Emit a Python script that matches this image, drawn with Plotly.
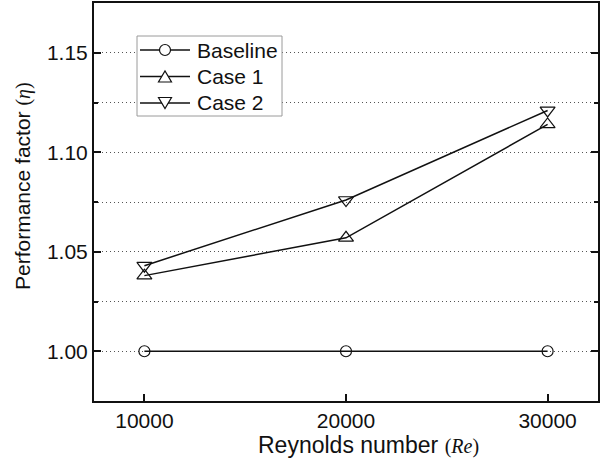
import plotly.graph_objects as go

re_values = [10000, 20000, 30000]
baseline = [1.000, 1.000, 1.000]
case1 = [1.038, 1.057, 1.114]
case2 = [1.043, 1.076, 1.121]
series_names = ["Baseline", "Case 1", "Case 2"]
y_ticks = [1.00, 1.05, 1.10, 1.15]
x_ticks = [10000, 20000, 30000]

W, H = 600, 462
ML, MR, MT, MB = 94, 2, 3, 61
PW, PH = W - ML - MR, H - MT - MB

symbols = ["circle-open", "triangle-up-open", "triangle-down-open"]
sizes = [11, 13, 13]

fig = go.Figure()
for name, vals, sym, sz in zip(series_names, [baseline, case1, case2], symbols, sizes):
    fig.add_trace(go.Scatter(
        x=re_values, y=vals, name=name, mode="lines+markers",
        line=dict(color="#111111", width=1.5),
        marker=dict(symbol=sym, size=sz, color="#111111",
                    line=dict(color="#111111", width=1.2)),
        showlegend=False,
    ))

# ---- custom legend (paper coordinates from pixel offsets) ----
def px(xp):
    return (xp - ML) / PW

def py(yp):
    return (H - MB - yp) / PH

shapes = []
annotations = []
leg_left, leg_right, leg_top, leg_bottom = 137, 282, 36, 116
shapes.append(dict(type="rect", xref="paper", yref="paper",
                   x0=px(leg_left), x1=px(leg_right), y0=py(leg_bottom), y1=py(leg_top),
                   line=dict(color="#9a9a9a", width=1), fillcolor="white", layer="above"))
row_y = [50, 76.5, 103]
for i, name in enumerate(series_names):
    yc = row_y[i]
    shapes.append(dict(type="line", xref="paper", yref="paper",
                       x0=px(140), x1=px(190), y0=py(yc), y1=py(yc),
                       line=dict(color="#111111", width=1.5), layer="above"))
    cx = 165
    if i == 0:
        r = 5.5
        shapes.append(dict(type="circle", xref="paper", yref="paper",
                           x0=px(cx - r), x1=px(cx + r), y0=py(yc + r), y1=py(yc - r),
                           line=dict(color="#111111", width=1.2), fillcolor="white", layer="above"))
    else:
        hw, hh = 6.5, 5.5
        if i == 1:
            pts = [(cx - hw, yc + hh), (cx + hw, yc + hh), (cx, yc - hh)]
        else:
            pts = [(cx - hw, yc - hh), (cx + hw, yc - hh), (cx, yc + hh)]
        path = "M " + " L ".join("%f,%f" % (px(a), py(b)) for a, b in pts) + " Z"
        shapes.append(dict(type="path", xref="paper", yref="paper", path=path,
                           line=dict(color="#111111", width=1.2), fillcolor="white", layer="above"))
    annotations.append(dict(text=name, xref="paper", yref="paper",
                            x=px(195), y=py(yc), xanchor="left", yanchor="middle",
                            showarrow=False, font=dict(size=21)))

font_main = "Liberation Sans, Arial, sans-serif"
math_span = "<span style=\"font-family:'Liberation Serif',serif;font-size:20px\">(<i>%s</i>)</span>"

annotations += [
    dict(text="Reynolds number " + math_span % "Re",
         xref="paper", yref="paper", x=px(368), y=py(445),
         xanchor="center", yanchor="middle", showarrow=False,
         font=dict(size=23)),
    dict(text="Performance factor " + math_span % "η",
         xref="paper", yref="paper", x=px(23), y=py(186),
         xanchor="center", yanchor="middle", showarrow=False,
         textangle=-90, font=dict(size=21)),
]

fig.update_layout(
    width=W, height=H,
    margin=dict(l=ML, r=MR, t=MT, b=MB),
    paper_bgcolor="white", plot_bgcolor="white",
    font=dict(family=font_main, size=21, color="#111111"),
    showlegend=False,
    xaxis=dict(
        range=[7500, 32500], tickvals=x_ticks,
        ticktext=[str(v) for v in x_ticks],
        ticks="inside", ticklen=7, tickwidth=1.5, tickcolor="#111111",
        showline=True, linewidth=2, linecolor="#111111", mirror=True,
        showgrid=False, zeroline=False, automargin=False,
        tickfont=dict(size=21),
    ),
    yaxis=dict(
        range=[0.975, 1.175], tickvals=y_ticks,
        ticktext=["%.2f" % v for v in y_ticks],
        ticks="inside", ticklen=7, tickwidth=1.5, tickcolor="#111111",
        showline=True, linewidth=2, linecolor="#111111", mirror="ticks",
        showgrid=True, gridcolor="#555555", gridwidth=1, griddash="1px,3px",
        zeroline=False, automargin=False,
        minor=dict(dtick=0.025, tick0=1.0, ticks="inside", ticklen=4,
                   tickwidth=1.5, tickcolor="#111111",
                   showgrid=True, gridcolor="#555555", gridwidth=1, griddash="1px,3px"),
        tickfont=dict(size=21),
    ),
    shapes=shapes,
    annotations=annotations,
)

fig.write_html("out.html", config={"displayModeBar": False},
               post_script="document.body.style.margin='0';document.body.style.overflow='hidden';")
